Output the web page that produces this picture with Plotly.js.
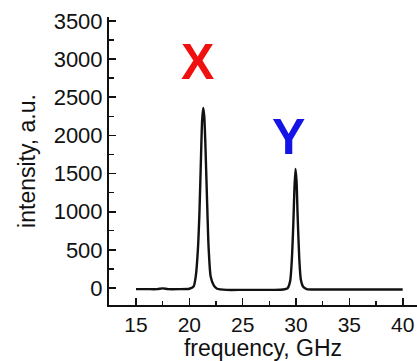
<!DOCTYPE html>
<html>
<head>
<meta charset="utf-8">
<script src="https://cdn.plot.ly/plotly-3.0.1.min.js"></script>
<style>
  html, body { margin: 0; padding: 0; background: #fff; }
  #chart { width: 417px; height: 361px; }
</style>
</head>
<body>
<div id="chart"></div>
<script>
// Measured spectrum: frequency (GHz) and intensity (a.u.)
const frequency = [15, 16, 17, 17.5, 18, 19, 20, 20.4, 20.6, 20.8, 20.95, 21.1, 21.2, 21.3, 21.4, 21.5, 21.65, 21.8, 22.0, 22.3, 22.6, 23.5, 25, 26.5, 28, 28.8, 29.2, 29.45, 29.6, 29.75, 29.85, 29.95, 30.05, 30.15, 30.3, 30.45, 30.65, 31.0, 32, 34, 36, 38, 40];
const intensity = [-15, -15, -15, -5, -15, -15, -10, 20, 150, 500, 1000, 1750, 2200, 2360, 2250, 1900, 1200, 550, 150, 30, -10, -25, -25, -25, -25, -20, -5, 90, 350, 850, 1300, 1560, 1400, 950, 400, 110, 20, -15, -20, -20, -20, -20, -20];

// Peak markers
const peakLabels = ["X", "Y"];
const peakLabelX = [20.75, 29.25];
const peakLabelY = [2960, 1980];
const peakColors = ["#f01010", "#1414e6"];

// Axis ticks
const xTicks = [15, 20, 25, 30, 35, 40];
const yTicks = [0, 500, 1000, 1500, 2000, 2500, 3000, 3500];

const trace = {
  x: frequency,
  y: intensity,
  type: "scatter",
  mode: "lines",
  line: { color: "#111", width: 2.4, shape: "spline", smoothing: 0.6 },
  hoverinfo: "skip"
};

const annotations = peakLabels.map((t, i) => ({
  x: peakLabelX[i],
  y: peakLabelY[i],
  xref: "x",
  yref: "y",
  text: "<b>" + t + "</b>",
  showarrow: false,
  xanchor: "center",
  yanchor: "middle",
  font: { family: "Liberation Sans, Arial, sans-serif", size: 50, color: peakColors[i] }
}));

const layout = {
  width: 417,
  height: 361,
  margin: { l: 109, r: 0, t: 17, b: 56 },
  paper_bgcolor: "#fff",
  plot_bgcolor: "#fff",
  showlegend: false,
  font: { family: "Liberation Sans, Arial, sans-serif", color: "#111" },
  xaxis: {
    range: [12.47, 41.34],
    tickvals: xTicks,
    ticktext: xTicks.map(String),
    ticks: "inside",
    ticklen: 7,
    tickwidth: 1.6,
    tickcolor: "#111",
    minor: { dtick: 2.5, tick0: 0, ticks: "inside", ticklen: 4, tickwidth: 1.4, tickcolor: "#111" },
    showline: true,
    linecolor: "#111",
    linewidth: 2,
    showgrid: false,
    zeroline: false,
    tickfont: { size: 21, color: "#111" },
    title: { text: "frequency, GHz", font: { size: 23, color: "#111" }, standoff: 10 }
  },
  yaxis: {
    range: [-223, 3552],
    tickvals: yTicks,
    ticktext: yTicks.map(String),
    ticks: "inside",
    ticklen: 7,
    tickwidth: 1.6,
    tickcolor: "#111",
    minor: { dtick: 250, tick0: 0, ticks: "inside", ticklen: 5, tickwidth: 1.4, tickcolor: "#111" },
    showline: true,
    linecolor: "#111",
    linewidth: 2,
    showgrid: false,
    zeroline: false,
    tickfont: { size: 22, color: "#111" },
    title: { text: "intensity, a.u.", font: { size: 23, color: "#111" }, standoff: 12 }
  },
  annotations: annotations
};

Plotly.newPlot("chart", [trace], layout, { staticPlot: true, displayModeBar: false });
</script>
</body>
</html>
